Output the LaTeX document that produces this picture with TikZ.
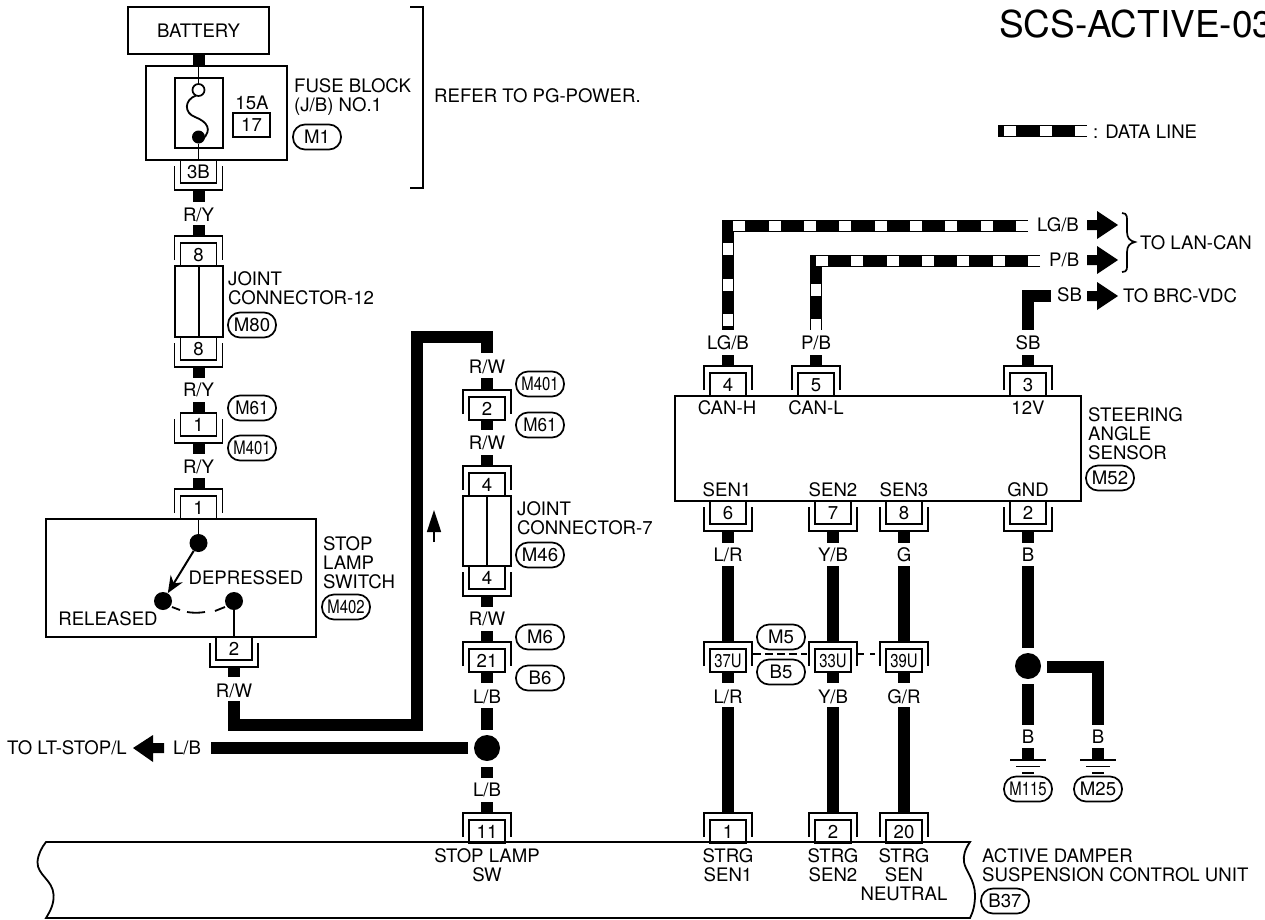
\documentclass[tikz,border=0pt]{standalone}
\usepackage{graphicx}
\usepackage{fontspec}
\setmainfont{TeX Gyre Heros}
\usetikzlibrary{arrows.meta}
\tikzset{
  x=1pt,y=-1pt,
  every node/.style={font=\fontsize{18.6}{19}\selectfont,inner sep=0pt},
  lab/.style={text height=13.3pt,text depth=0pt},
  lableft/.style={anchor=north west,align=left},
  labcen/.style={anchor=north,align=center},
  boxed/.style={draw,line width=1.8pt,text height=13.3pt,text depth=0pt},
  pin/.style={draw,line width=1.7pt,minimum width=36pt,minimum height=23pt,text height=13.3pt,text depth=0pt},
  bracket/.style={draw,line width=1.5pt},
  thinw/.style={draw,line width=1.8pt},
  wire/.style={draw,line width=12pt,miter limit=10},
  dataover/.style={draw=white,line width=10pt,dash pattern=on 12pt off 23.33pt},
  oval/.style={draw,line width=1.7pt,rounded corners=12pt,minimum width=48pt,minimum height=25pt,text height=13.3pt,text depth=0pt},
  dot/.style={circle,fill=black,minimum size=18pt},
  bigdot/.style={circle,fill=black,minimum size=26pt},
}
% connector with its bracket above the pin box
\newcommand\conT[4]{%
  \node[pin] (#1) at ({#2},{#3+18.5}) {#4};
  \draw[bracket] ({#2-24},{#3+24}) -- ({#2-24},{#3}) -- ({#2+24},{#3}) -- ({#2+24},{#3+24});}
% connector with its bracket below the pin box
\newcommand\conB[4]{%
  \node[pin] (#1) at ({#2},{#3+11.5}) {#4};
  \draw[bracket] ({#2-24},{#3+6}) -- ({#2-24},{#3+30}) -- ({#2+24},{#3+30}) -- ({#2+24},{#3+6});}
% vertical wire segment between two named coordinates
\newcommand\wv[4]{%
  \coordinate (#1a) at ({#2},{#3});
  \coordinate (#1b) at ({#2},{#4});
  \draw[wire] (#1a) -- (#1b);}
% block arrow pointing right
\newcommand\arrR[3]{\fill[black] ({#1},{#2-5}) -- ({#1+10},{#2-5}) -- ({#1+10},{#2-14}) -- ({#3},{#2}) -- ({#1+10},{#2+14}) -- ({#1+10},{#2+5}) -- ({#1},{#2+5}) -- cycle;}
% ground symbol
\newcommand\gnd[2]{%
  \draw[line width=1.7pt] ({#1-18},{#2}) -- ({#1+18},{#2});
  \draw[line width=1.7pt] ({#1-12},{#2+6.5}) -- ({#1+12},{#2+6.5});
  \draw[line width=1.7pt] ({#1-6},{#2+13}) -- ({#1+6},{#2+13});}
\newcommand\cnd[1]{\scalebox{0.8}[1]{#1}}
\begin{document}
\begin{tikzpicture}
\useasboundingbox (0,0) rectangle (1265,919);
% title and legend
\node[anchor=base west,font=\fontsize{37}{40}\selectfont] (title) at (999,37) {SCS-ACTIVE-03};
\coordinate (lega) at (1087,131);
\coordinate (legb) at (998,131);
\draw[wire] (lega) -- (legb);
\draw[dataover] (lega) -- (legb);
\node[lab,anchor=west] (legt) at (1093,132) {: DATA LINE};

% left column: battery to stop lamp switch
\node[boxed,minimum width=141pt,minimum height=47pt] (bat) at (198.5,30.5) {BATTERY};
\node[boxed,minimum width=141pt,minimum height=94pt] (fuse) at (216.5,113) {};
\draw[wire] (bat.south) -- (bat.south |- fuse.north);
\node[boxed,minimum width=48pt,minimum height=70pt] (fi) at (199,113) {};
\node[circle,draw,line width=1.7pt,minimum size=12pt,fill=white] (fo) at (198.5,90) {};
\node[circle,fill=black,minimum size=13pt] (ff) at (198.5,137) {};
\draw[thinw] (bat.south |- fuse.north) -- (fo);
\draw[thinw] (ff) -- (ff |- fuse.south);
\draw[thinw] (196,95.5) .. controls (184,100) and (184,113) .. (195,117) .. controls (208,122) and (212,130) .. (203,139);
\node[lab] (a15) at (252,103) {15A};
\node[boxed,minimum width=37pt,minimum height=24pt] (f17) at (251.5,125) {17};
\node[lableft] (fbl) at (294,78.4) {FUSE BLOCK\\(J/B) NO.1};
\node[oval] (m1) at (317,137) {M1};
\draw[line width=1.7pt] (410,7) -- (423,7) -- (423,188) -- (410,188);
\node[lab,anchor=west] (refer) at (434,96) {REFER TO PG-POWER.};
\conB{c3b}{198.5}{160}{3B}
\wv{w1}{198.5}{190}{202}
\node[lab] (l1) at (198.5,215) {R/Y};
\wv{w2}{198.5}{225}{236}
\conT{c8a}{198.5}{236}{8}
\node[boxed,minimum width=48pt,minimum height=71pt] (j12) at (199,301.5) {};
\draw[line width=1.8pt] (j12.north) -- (j12.south);
\node[lableft] (j12t) at (228,271.4) {JOINT\\CONNECTOR-12};
\node[oval] (m80) at (252,325) {M80};
\conB{c8b}{198.5}{337}{8}
\wv{w3}{198.5}{367}{378}
\node[lab] (l2) at (198.5,390) {R/Y};
\wv{w4}{198.5}{402}{413}
\conB{c1a}{198.5}{413}{1}
\node[oval] (m61a) at (252,408) {\scalebox{0.92}[1]{M61}};
\node[oval] (m401a) at (252,448) {\cnd{M401}};
\wv{w5}{198.5}{443}{454}
\node[lab] (l3) at (198.5,467) {R/Y};
\wv{w6}{198.5}{478}{489}
\conT{c1b}{198.5}{489}{1}
\node[boxed,minimum width=270pt,minimum height=118pt] (sw) at (181,578) {};
\node[dot] (d1) at (198.5,543) {};
\node[dot] (d2) at (163,601) {};
\node[dot] (d3) at (234,601) {};
\draw[thinw] (d1 |- sw.north) -- (d1);
\draw[thinw] (d3) -- (d3 |- sw.south);
\draw[line width=2pt,-{Stealth[length=17pt,width=14pt]}] (d1) -- (d2);
\draw[thinw] (172,607) -- (180,610);
\draw[thinw] (187,612) .. controls (193,613) and (199,613) .. (205,612);
\draw[thinw] (215,611) -- (225,607);
\node[lab] (dep) at (246,578) {DEPRESSED};
\node[lab] (rel) at (108,619) {RELEASED};
\node[lableft] (swt) at (323,536.4) {STOP\\LAMP\\SWITCH};
\node[oval] (m402) at (346,607) {\cnd{M402}};
\conB{c2a}{234}{637}{2}
\wv{w7}{234}{667}{677}
\node[lab] (l4) at (234,691) {R/W};

% long R/W wire
\coordinate (rwa) at (234,701);
\coordinate (rwb) at (234,725);
\coordinate (rwc) at (417,725);
\coordinate (rwd) at (417,337);
\coordinate (rwe) at (487,337);
\coordinate (rwf) at (487,353);
\draw[wire] (rwa) -- (rwb) -- (rwc) -- (rwd) -- (rwe) -- (rwf);
\coordinate (upa) at (434,542);
\coordinate (upb) at (434,510);
\draw[line width=1.7pt,-{Stealth[length=22pt,width=14pt,inset=0pt]}] (upa) -- (upb);

% middle column
\node[lab] (l5) at (487,367) {R/W};
\wv{w8}{487}{378}{390}
\conT{c2b}{487}{390}{2}
\node[oval] (m401b) at (540,384) {\cnd{M401}};
\node[oval] (m61b) at (540,425) {\scalebox{0.92}[1]{M61}};
\wv{w9}{487}{419}{430}
\node[lab] (l6) at (487,443) {R/W};
\wv{w10}{487}{455}{466}
\conT{c4a}{487}{466}{4}
\node[boxed,minimum width=48pt,minimum height=70pt] (j7) at (487,531) {};
\draw[line width=1.8pt] (j7.north) -- (j7.south);
\node[lableft] (j7t) at (517,501.4) {JOINT\\CONNECTOR-7};
\node[oval] (m46) at (540,555) {M46};
\conB{c4b}{487}{566}{4}
\wv{w11}{487}{596}{607}
\node[lab] (l7) at (487,619) {R/W};
\wv{w12}{487}{631}{642}
\conT{c21}{487}{642}{21}
\node[oval] (m6) at (540,637) {M6};
\node[oval] (b6) at (540,678) {B6};
\wv{w13}{487}{672}{683}
\node[lab] (l8) at (487,697) {L/B};
\node[bigdot] (dm) at (487,748) {};
\wv{w14}{487}{708}{730}
\wv{w15}{487}{767}{778}
\node[lab] (l9) at (487,790) {L/B};
\wv{w16}{487}{802}{813}
\conT{c11}{487}{813}{11}
\coordinate (lba) at (468,748);
\coordinate (lbb) at (211,748);
\draw[wire] (lba) -- (lbb);
\node[lab] (l10) at (187,748) {L/B};
\fill[black] (164,743) -- (153,743) -- (153,735) -- (133,748) -- (153,762) -- (153,753) -- (164,753) -- cycle;
\node[lab,anchor=east] (tolt) at (127,748) {TO LT-STOP/L};

% steering angle sensor
\node[boxed,minimum width=406pt,minimum height=105pt] (sas) at (878,448.5) {};
\conT{c4c}{728}{366}{4}
\conT{c5}{816}{366}{5}
\conT{c3}{1028}{366}{3}
\node[lab] (can1) at (727,408) {CAN-H};
\node[lab] (can2) at (816,408) {CAN-L};
\node[lab] (v12) at (1028,408) {12V};
\node[lab] (sen1) at (727,490) {SEN1};
\node[lab] (sen2) at (833,490) {SEN2};
\node[lab] (sen3) at (904,490) {SEN3};
\node[lab] (gndt) at (1028,490) {GND};
\node[lableft] (sast) at (1088,407.4) {STEERING\\ANGLE\\SENSOR};
\node[oval] (m52) at (1110,478) {M52};
\conB{c6}{728}{501}{6}
\conB{c7}{833}{501}{7}
\conB{c8}{904}{501}{8}
\conB{c2c}{1028}{501}{2}

% data lines and 12 V feed
\coordinate (lga) at (1028,225.5);
\coordinate (lgb) at (728,225.5);
\coordinate (lgc) at (728,330);
\draw[wire] (lga) -- (lgb) -- (lgc);
\draw[dataover] (lga) -- (lgb) -- (lgc);
\coordinate (pba) at (1040,260.5);
\coordinate (pbb) at (816,260.5);
\coordinate (pbc) at (816,330);
\draw[wire] (pba) -- (pbb) -- (pbc);
\draw[dataover] (pba) -- (pbb) -- (pbc);
\coordinate (sba) at (1051,295.5);
\coordinate (sbb) at (1028,295.5);
\coordinate (sbc) at (1028,330);
\draw[wire] (sba) -- (sbb) -- (sbc);
\node[lab,anchor=west] (t1) at (1037,225) {LG/B};
\node[lab,anchor=west] (t2) at (1049,260) {P/B};
\node[lab,anchor=west] (t3) at (1057,295) {SB};
\arrR{1087}{225}{1118}
\arrR{1087}{260}{1118}
\arrR{1087}{296}{1118}
\draw[line width=1.7pt] (1122,213) .. controls (1128,213) and (1127,218) .. (1127,225) -- (1127,232) .. controls (1127,238) and (1130,241) .. (1135,242) .. controls (1130,243) and (1127,246) .. (1127,252) -- (1127,262) .. controls (1127,268) and (1128,272) .. (1122,272);
\node[lab,anchor=west] (tolan) at (1140,243) {TO LAN-CAN};
\node[lab,anchor=west] (tobrc) at (1123,296) {TO BRC-VDC};
\node[lab] (t4) at (728,343) {LG/B};
\node[lab] (t5) at (816,343) {P/B};
\node[lab] (t6) at (1028,343) {SB};
\wv{w20}{728}{355}{366}
\wv{w21}{816}{355}{366}
\wv{w22}{1028}{355}{366}

% sensor outputs
\wv{w23}{728}{531}{543}
\wv{w24}{833}{531}{543}
\wv{w25}{904}{531}{543}
\wv{w26}{1028}{531}{543}
\node[lab] (t7) at (728,555) {L/R};
\node[lab] (t8) at (833,555) {Y/B};
\node[lab] (t9) at (904,555) {G};
\node[lab] (t10) at (1028,555) {B};
\wv{w27}{728}{566}{642}
\wv{w28}{833}{566}{642}
\wv{w29}{904}{566}{642}
\conT{c37}{728}{642}{\cnd{37U}}
\conT{c33}{833}{642}{\cnd{33U}}
\conT{c39}{904}{642}{\cnd{39U}}
\coordinate (da) at (753,654);
\coordinate (db) at (807,654);
\coordinate (dc) at (858,654);
\coordinate (dd) at (875,654);
\draw[line width=1.7pt,dash pattern=on 8pt off 4pt] (da) -- (db);
\draw[line width=1.7pt,dash pattern=on 6pt off 6pt] (dc) -- (dd);
\node[oval] (m5) at (781,637) {M5};
\node[oval] (b5) at (781,672) {B5};
\wv{w30}{728}{672}{683}
\wv{w31}{833}{672}{683}
\wv{w32}{904}{672}{683}
\node[lab] (t11) at (728,697) {L/R};
\node[lab] (t12) at (833,697) {Y/B};
\node[lab] (t13) at (904,697) {G/R};
\wv{w33}{728}{707}{813}
\wv{w34}{833}{707}{813}
\wv{w35}{904}{707}{813}
\conT{c1c}{728}{813}{1}
\conT{c2d}{833}{813}{2}
\conT{c20}{904}{813}{20}

% grounds
\wv{w36}{1028}{566}{648}
\node[bigdot] (dg) at (1028,666) {};
\wv{w37}{1028}{684}{725}
\coordinate (ga) at (1047,666.5);
\coordinate (gb) at (1098,666.5);
\coordinate (gc) at (1098,725);
\draw[wire] (ga) -- (gb) -- (gc);
\node[lab] (t14) at (1028,737) {B};
\node[lab] (t15) at (1098,737) {B};
\wv{w38}{1028}{748}{760}
\wv{w39}{1098}{748}{760}
\gnd{1028}{760}
\gnd{1098}{760}
\node[oval] (m115) at (1028,789) {\cnd{M115}};
\node[oval] (m25) at (1098,789) {M25};

% control unit
\draw[line width=1.8pt] (46,842) -- (970,842)
  .. controls (965,849) and (963,856) .. (964,862)
  .. controls (965,870) and (975,880) .. (975,895)
  .. controls (975,905) and (973,912) .. (970,918)
  -- (46,918)
  .. controls (51,910) and (54,903) .. (53.6,895)
  .. controls (53,880) and (37,875) .. (37.5,862)
  .. controls (38,854) and (42,847) .. (46,842) -- cycle;
\node[labcen] (u1) at (487,848.4) {STOP LAMP\\SW};
\node[labcen] (u2) at (728,848.4) {STRG\\SEN1};
\node[labcen] (u3) at (833,848.4) {STRG\\SEN2};
\node[labcen] (u4) at (904,848.4) {STRG\\SEN\\NEUTRAL};
\node[lableft] (u5) at (982,848.4) {ACTIVE DAMPER\\SUSPENSION CONTROL UNIT};
\node[oval] (b37) at (1005,901) {B37};
\end{tikzpicture}
\end{document}
